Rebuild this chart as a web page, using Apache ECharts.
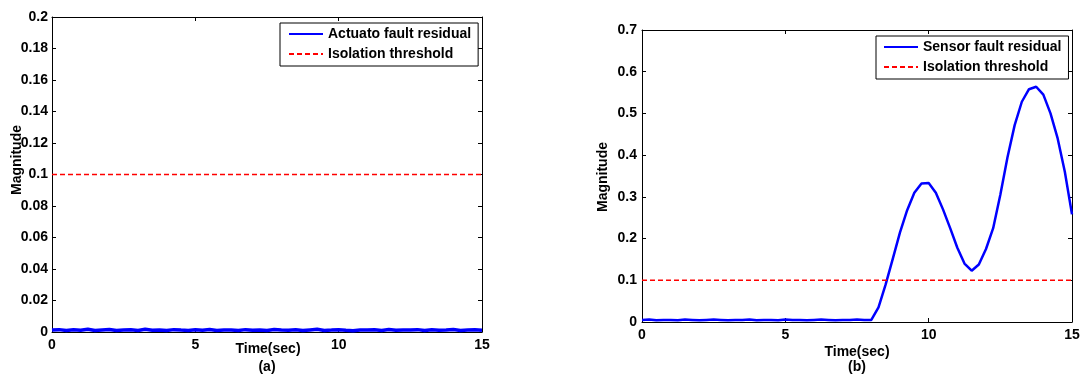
<!DOCTYPE html>
<html>
<head>
<meta charset="utf-8">
<script src="https://cdn.jsdelivr.net/npm/echarts@6/dist/echarts.min.js"></script>
<style>
html,body{margin:0;padding:0;background:#fff;}
#chart{width:1086px;height:376px;}
</style>
</head>
<body>
<div id="chart"></div>
<script>
// ---- data ----
var timeSec = [0,0.25,0.5,0.75,1,1.25,1.5,1.75,2,2.25,
  2.5,2.75,3,3.25,3.5,3.75,4,4.25,4.5,4.75,
  5,5.25,5.5,5.75,6,6.25,6.5,6.75,7,7.25,
  7.5,7.75,8,8.25,8.5,8.75,9,9.25,9.5,9.75,
  10,10.25,10.5,10.75,11,11.25,11.5,11.75,12,12.25,
  12.5,12.75,13,13.25,13.5,13.75,14,14.25,14.5,14.75,
  15];
var actuatorResidual = [0.0012,0.0015,0.0009,0.0014,0.0011,0.0018,0.0010,0.0013,0.0016,0.0009,
  0.0012,0.0014,0.0010,0.0017,0.0011,0.0013,0.0009,0.0015,0.0012,0.0010,
  0.0014,0.0011,0.0016,0.0010,0.0013,0.0012,0.0009,0.0015,0.0011,0.0013,
  0.0010,0.0016,0.0012,0.0011,0.0014,0.0009,0.0013,0.0017,0.0010,0.0012,
  0.0015,0.0011,0.0008,0.0013,0.0012,0.0014,0.0010,0.0016,0.0011,0.0013,
  0.0012,0.0015,0.0009,0.0014,0.0011,0.0013,0.0016,0.0010,0.0012,0.0014,
  0.0011];
var sensorResidual = [0.005,0.006,0.004,0.005,0.005,0.004,0.006,0.005,0.004,0.005,
  0.006,0.005,0.004,0.005,0.005,0.006,0.004,0.005,0.005,0.004,
  0.006,0.005,0.005,0.004,0.005,0.006,0.005,0.004,0.005,0.005,
  0.006,0.005,0.005,0.035,0.09,0.152,0.215,0.268,0.31,0.332,
  0.333,0.31,0.27,0.225,0.178,0.14,0.123,0.138,0.175,0.225,
  0.305,0.395,0.472,0.528,0.558,0.564,0.545,0.5,0.44,0.36,
  0.258];
var thresholdTimes = [0, 15];
var thresholdValues = [0.1, 0.1];
var seriesNames = ['Actuato fault residual', 'Sensor fault residual', 'Isolation threshold'];
var panelLabels = ['(a)', '(b)'];
var xTitle = 'Time(sec)';
var yTitle = 'Magnitude';

function pairs(xs, ys){ return xs.map(function(x,i){ return [x, ys[i]]; }); }

var FONT = '"Liberation Sans", Arial, sans-serif';
var lblStyle = {color:'#000', fontFamily:FONT, fontWeight:'bold', fontSize:14};

function xAx(grid, pos, labels){
  return {type:'value', gridIndex:grid, position:pos, min:0, max:15, interval:5,
    axisLine:{show:true, onZero:false, lineStyle:{color:'#000', width:1}},
    axisTick:{show:true, inside:true, length:4, lineStyle:{color:'#000'}},
    axisLabel: labels ? Object.assign({show:true, margin:6}, lblStyle) : {show:false},
    splitLine:{show:false}};
}
function yAx(grid, pos, max, interval, labels, margin){
  return {type:'value', gridIndex:grid, position:pos, min:0, max:max, interval:interval,
    axisLine:{show:true, onZero:false, lineStyle:{color:'#000', width:1}},
    axisTick:{show:true, inside:true, length:4, lineStyle:{color:'#000'}},
    axisLabel: labels ? Object.assign({show:true, margin:margin,
      formatter:function(v){ return String(+v.toFixed(4)); }}, lblStyle) : {show:false},
    splitLine:{show:false}};
}

var chart = echarts.init(document.getElementById('chart'), null, {renderer:'canvas'});
var legendBase = {orient:'vertical', itemWidth:34, itemHeight:14, itemGap:6,
  borderColor:'#000', borderWidth:1, borderRadius:0, backgroundColor:'#fff',
  textStyle:{color:'#000', fontFamily:FONT, fontWeight:'bold', fontSize:14},
  lineStyle:{width:2}, itemStyle:{opacity:0, color:'transparent', borderWidth:0}, selectedMode:false};

chart.setOption({
  animation:false,
  backgroundColor:'#fff',
  grid:[
    {left:52, top:17, width:430, height:315},
    {left:642, top:30, width:430, height:292}
  ],
  xAxis:[xAx(0,'bottom',true), xAx(0,'top',false), xAx(1,'bottom',true), xAx(1,'top',false)],
  yAxis:[yAx(0,'left',0.2,0.02,true,4), yAx(0,'right',0.2,0.02,false,0),
         yAx(1,'left',0.7,0.1,true,5), yAx(1,'right',0.7,0.1,false,0)],
  legend:[
    Object.assign({left:280, top:23, padding:[4,7,5,8], data:[seriesNames[0], seriesNames[2]]}, legendBase),
    Object.assign({left:876, top:36, padding:[4,7,5,7], data:[seriesNames[1], seriesNames[2]]}, legendBase)
  ],
  series:[
    {name:seriesNames[0], type:'line', xAxisIndex:0, yAxisIndex:0, symbol:'none',
      data:pairs(timeSec, actuatorResidual), lineStyle:{color:'#0000ff', width:3.5}, itemStyle:{color:'#0000ff'}},
    {name:seriesNames[2], type:'line', xAxisIndex:0, yAxisIndex:0, symbol:'none',
      data:pairs(thresholdTimes, thresholdValues), lineStyle:{color:'#ff0000', width:1.5, type:[5,3]}, itemStyle:{color:'#ff0000'}},
    {name:seriesNames[1], type:'line', xAxisIndex:2, yAxisIndex:2, symbol:'none',
      data:pairs(timeSec, sensorResidual), lineStyle:{color:'#0000ff', width:2.5}, itemStyle:{color:'#0000ff'}},
    {name:seriesNames[2], type:'line', xAxisIndex:2, yAxisIndex:2, symbol:'none',
      data:pairs(thresholdTimes, thresholdValues), lineStyle:{color:'#ff0000', width:1.5, type:[5,3]}, itemStyle:{color:'#ff0000'}}
  ],
  graphic:[
    {type:'text', x:17, y:160, rotation:Math.PI/2, style:{text:yTitle, x:0, y:0, align:'center', verticalAlign:'middle', fill:'#000', font:'bold 14px '+FONT}},
    {type:'text', x:603, y:177, rotation:Math.PI/2, style:{text:yTitle, x:0, y:0, align:'center', verticalAlign:'middle', fill:'#000', font:'bold 14px '+FONT}},
    {type:'text', x:268, y:349, style:{text:xTitle, align:'center', verticalAlign:'middle', fill:'#000', font:'bold 14px '+FONT}},
    {type:'text', x:267, y:367, style:{text:panelLabels[0], align:'center', verticalAlign:'middle', fill:'#000', font:'bold 14px '+FONT}},
    {type:'text', x:857, y:352, style:{text:xTitle, align:'center', verticalAlign:'middle', fill:'#000', font:'bold 14px '+FONT}},
    {type:'text', x:857, y:367, style:{text:panelLabels[1], align:'center', verticalAlign:'middle', fill:'#000', font:'bold 14px '+FONT}}
  ]
});
</script>
</body>
</html>
